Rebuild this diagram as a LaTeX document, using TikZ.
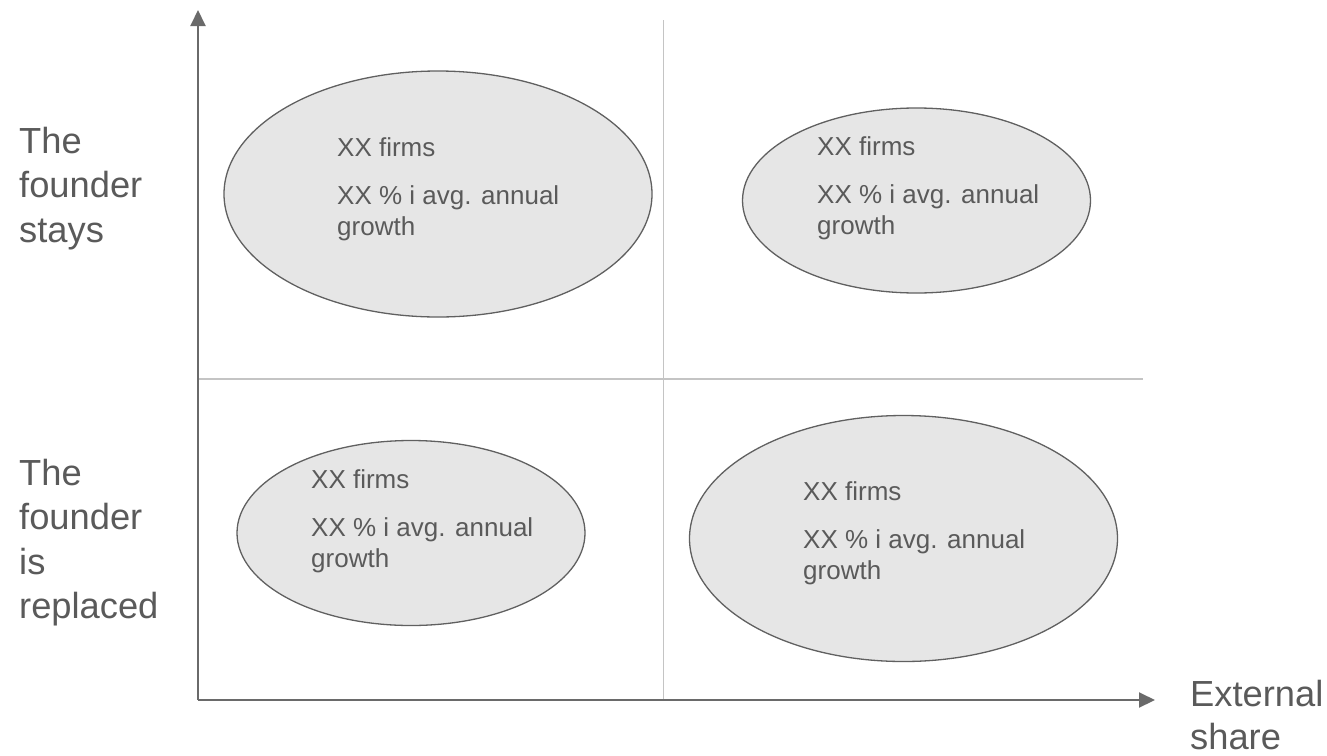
\documentclass[tikz,border=0pt]{standalone}
\usepackage{fontspec}
\setmainfont{Liberation Sans}
\usetikzlibrary{shapes.geometric,arrows.meta}

\definecolor{axisgray}{HTML}{6A6A6A}
\definecolor{gridgray}{HTML}{C4C4C4}
\definecolor{bubblefill}{HTML}{E6E6E6}
\definecolor{bubbleline}{HTML}{606060}
\definecolor{textgray}{HTML}{5A5A5A}

% text block inside each bubble: count line, then wrapped growth line
\newcommand{\bubbletext}{\vtop{\fontsize{26pt}{31pt}\selectfont\baselineskip=31pt
  \hbox{XX firms}\vskip 17pt\hbox{XX \% i avg. annual}\hbox{growth}}}
% stacked axis captions
\newcommand{\stacklines}[2][44.5pt]{\vtop{\fontsize{36.3pt}{#1}\selectfont\baselineskip=#1 #2}}

\begin{document}
\begin{tikzpicture}[x=1pt,y=-1pt,
  axisline/.style={draw=axisgray,line width=2pt,-{Triangle[length=16pt,width=15pt]}},
  gridline/.style={draw=gridgray,line width=1.8pt},
  bubble/.style={ellipse,draw=bubbleline,fill=bubblefill,line width=1.3pt,inner sep=0pt},
  bigbubble/.style={bubble,minimum width=428pt,minimum height=246pt},
  smallbubble/.style={bubble,minimum width=348pt,minimum height=185pt},
  caption/.style={anchor=base west,inner sep=0pt,text=textgray}]
  \useasboundingbox (0,0) rectangle (1327,755);

  % quadrant dividers
  \coordinate (vtop) at (663.5,20);
  \coordinate (vbot) at (663.5,700);
  \coordinate (hleft) at (198,379);
  \coordinate (hright) at (1143,379);
  \draw[gridline] (vtop) -- (vbot);
  \draw[gridline] (hleft) -- (hright);

  % axes
  \coordinate (origin) at (198,700);
  \coordinate (ytip) at (198,10);
  \coordinate (xtip) at (1155,700);
  \draw[axisline] (origin) -- (ytip);
  \draw[axisline] (origin) -- (xtip);

  % bubbles
  \node[bigbubble]   (q1) at (438,194) {};
  \node[smallbubble] (q2) at (916.5,200.5) {};
  \node[smallbubble] (q3) at (411,533) {};
  \node[bigbubble]   (q4) at (903.5,538.5) {};

  \node[caption] (t1) at (337,156) {\bubbletext};
  \node[caption] (t2) at (817,155) {\bubbletext};
  \node[caption] (t3) at (311,488) {\bubbletext};
  \node[caption] (t4) at (803,500) {\bubbletext};

  % axis captions
  \node[caption] (stays) at (19,153) {\stacklines{\hbox{The}\hbox{founder}\hbox{stays}}};
  \node[caption] (replaced) at (19,485) {\stacklines{\hbox{The}\hbox{founder}\hbox{is}\hbox{replaced}}};
  \node[caption] (external) at (1190,706) {\stacklines[43pt]{\hbox{External}\hbox{share}}};
\end{tikzpicture}
\end{document}
